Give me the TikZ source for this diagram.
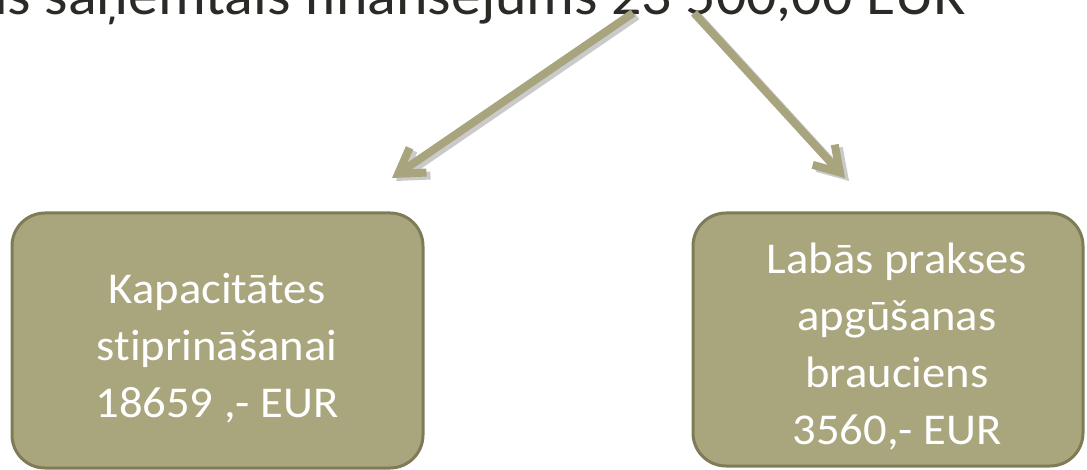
\documentclass[tikz,border=0pt]{standalone}
\usepackage{fontspec}
\setmainfont{Carlito}[FakeStretch=1.06,Ligatures=CommonOff]
\usetikzlibrary{arrows.meta}
\definecolor{olivebox}{HTML}{A9A57C}
\definecolor{oliveline}{HTML}{7E7C58}
\definecolor{olivearrow}{HTML}{A8A57E}
\definecolor{darktext}{HTML}{2B2A26}
\begin{document}
\begin{tikzpicture}[x=1pt,y=-1pt,
  boxnode/.style={draw=oliveline,line width=3pt,fill=olivebox,rounded corners=33pt},
  boxtext/.style={anchor=base,text=white,align=center,font=\fontsize{44pt}{57pt}\selectfont},
  arrowline/.style={olivearrow,line width=8pt,-{Straight Barb[length=24pt,width=30pt]}},
  arrowshade/.style={black!60,opacity=0.35,line width=8pt,-{Straight Barb[length=24pt,width=30pt]}}]
\useasboundingbox (0,0) rectangle (1087,470);
\clip (0,0) rectangle (1087,470);

% title, cut at the top
\node (title) at (970,15) [anchor=base east,text=darktext,font=\fontsize{56.5pt}{68pt}\selectfont]
  {is saņemtais finansējums 23 500,00 EUR};

% the two boxes
\node (left) at (217.5,340.5) [boxnode,minimum width=411pt,minimum height=255pt] {};
\node (right) at (888,339.5) [boxnode,minimum width=390pt,minimum height=253pt] {};
% base anchor = last line
\node (lefttext) at (217,417) [boxtext] {Kapacitātes\\stiprināšanai\\18659 ,- EUR};
\node (righttext) at (897,444) [boxtext] {Labās prakses\\apgūšanas\\brauciens\\3560,- EUR};

% arrows
\coordinate (lstart) at (633,13);
\coordinate (lend) at (392,178);
\coordinate (rstart) at (694,13);
\coordinate (rend) at (845,178);
\draw [arrowshade] ([shift={(4,3)}]lstart) -- ([shift={(4,3)}]lend);
\draw [arrowshade] ([shift={(4,3)}]rstart) -- ([shift={(4,3)}]rend);
\draw [arrowline] (lstart) -- (lend);
\draw [arrowline] (rstart) -- (rend);
\end{tikzpicture}
\end{document}
